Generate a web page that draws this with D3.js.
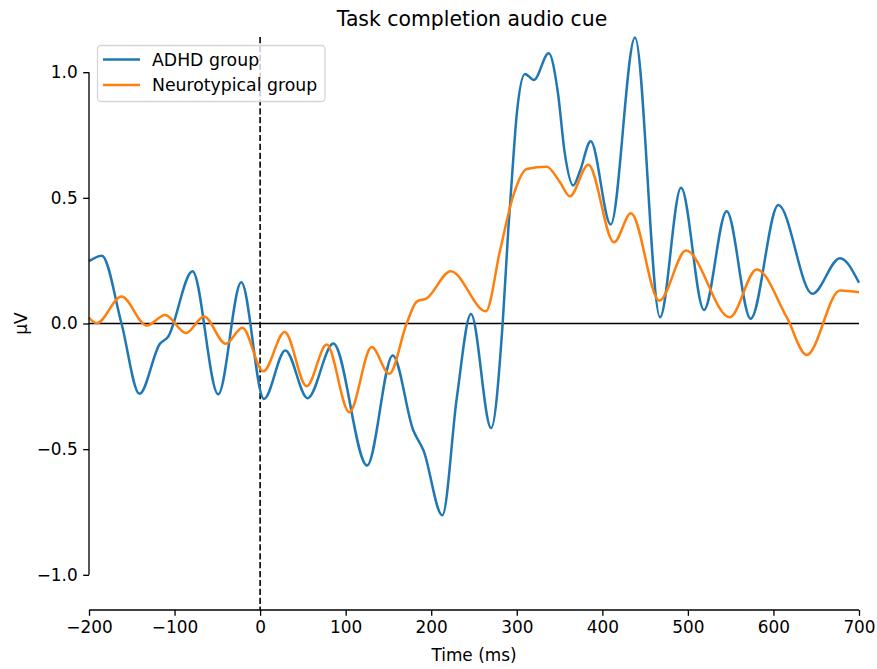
<!DOCTYPE html>
<html><head><meta charset="utf-8">
<script src="https://cdn.jsdelivr.net/npm/d3@7"></script>
<style>body{margin:0;background:#fff;}svg{display:block;font-family:"DejaVu Sans",sans-serif;}</style>
</head><body>
<svg id="c" width="877" height="669"></svg>
<script>
const seriesNames = ["ADHD group", "Neurotypical group"];
const seriesColors = ["#1f77b4", "#ff7f0e"];
const xTicks = [-200, -100, 0, 100, 200, 300, 400, 500, 600, 700];
const yTicks = [-1.0, -0.5, 0.0, 0.5, 1.0];
const adhdTime = [-200,-185,-162,-141,-117,-108,-79,-49,-22,4.5,29.5,55.6,85.6,125,155,179,191,213,230,246.5,270,283.5,290,296,300,309.6,320,337.3,348,356,366,374,386.4,409.8,438.2,467.4,492,518.8,545.3,573.4,605.7,645.4,677.8,700];
const adhdValues = [0.248,0.27,0.0,-0.28,-0.08,-0.055,0.208,-0.282,0.164,-0.30,-0.107,-0.297,-0.08,-0.565,-0.127,-0.425,-0.505,-0.763,-0.293,0.038,-0.416,0.0,0.37,0.66,0.834,0.993,0.969,1.075,0.92,0.68,0.549,0.608,0.725,0.394,1.138,0.025,0.54,0.054,0.447,0.019,0.472,0.118,0.26,0.162];
const ntTime = [-200,-191,-162,-132.5,-111,-86.6,-65.6,-40.2,-20.8,3.7,28.7,54.4,77.8,104.3,130.4,151,171.3,183,194.7,222.8,264,280.4,296,311.6,335,350.5,362,383.6,413.6,433.5,466.6,497.8,549,580.4,615.5,638.8,677.8,700];
const ntValues = [0.023,0.001,0.107,-0.008,0.034,-0.038,0.028,-0.081,-0.017,-0.19,-0.034,-0.25,-0.084,-0.353,-0.094,-0.2,0.0,0.087,0.10,0.208,0.049,0.29,0.51,0.615,0.624,0.562,0.506,0.632,0.323,0.439,0.091,0.29,0.025,0.215,0.025,-0.125,0.131,0.124];

const svg = d3.select("#c");
const L = 89, R = 859, T = 37, B = 610;
const FS = 16.9;
const x = d3.scaleLinear().domain([-200, 700]).range([L, R]);
const y = d3.scaleLinear().domain([-1.14, 1.14]).range([B, T]);

// zero line
svg.append("line").attr("x1", x(-200)).attr("x2", x(700)).attr("y1", y(0)).attr("y2", y(0))
  .attr("stroke", "#000").attr("stroke-width", 1.3);
// dashed vertical at 0
svg.append("line").attr("x1", x(0)).attr("x2", x(0)).attr("y1", T).attr("y2", B)
  .attr("stroke", "#000").attr("stroke-width", 1.6).attr("stroke-dasharray", "6.2,2.7");

const line = d3.line().x(d => x(d[0])).y(d => y(d[1])).curve(d3.curveMonotoneX);
const data = [d3.zip(adhdTime, adhdValues), d3.zip(ntTime, ntValues)];
data.forEach((d, i) => {
  svg.append("path").datum(d).attr("d", line).attr("fill", "none")
    .attr("stroke", seriesColors[i]).attr("stroke-width", 2.5).attr("stroke-linejoin", "round");
});

// axes
const xAxis = d3.axisBottom(x).tickValues(xTicks).tickSize(5.8).tickPadding(5.5)
  .tickFormat(d => d3.format("d")(d).replace("-", "\u2212"));
const gx = svg.append("g").attr("transform", `translate(0,${B})`).call(xAxis);
gx.select(".domain").attr("d", `M${x(-200)},0H${x(700)}`).attr("stroke-width", 1.33);
gx.selectAll(".tick line").attr("stroke-width", 1.33);
gx.selectAll("text").attr("font-size", FS).attr("font-family", "DejaVu Sans").attr("fill", "#000");

const yAxis = d3.axisLeft(y).tickValues(yTicks).tickSize(5.8).tickPadding(5.5)
  .tickFormat(d => d3.format(".1f")(d).replace("-", "\u2212"));
const gy = svg.append("g").attr("transform", `translate(${L},0)`).call(yAxis);
gy.select(".domain").attr("d", `M0,${y(1)}V${y(-1)}`).attr("stroke-width", 1.33);
gy.selectAll(".tick line").attr("stroke-width", 1.33);
gy.selectAll("text").attr("font-size", FS).attr("font-family", "DejaVu Sans").attr("fill", "#000");
gx.attr("font-family", null).attr("font-size", null);
gy.attr("font-family", null).attr("font-size", null);

// labels
svg.append("text").attr("x", (L + R) / 2 - 2).attr("y", 26).attr("text-anchor", "middle")
  .attr("font-size", 20.4).text("Task completion audio cue");
svg.append("text").attr("x", (L + R) / 2).attr("y", 661).attr("text-anchor", "middle")
  .attr("font-size", FS).text("Time (ms)");
svg.append("text").attr("transform", `translate(27,${(T + B) / 2}) rotate(-90)`).attr("text-anchor", "middle")
  .attr("font-size", FS).text("\u00b5V");

// legend
const lg = svg.append("g");
lg.append("rect").attr("x", 97.5).attr("y", 45.5).attr("width", 227.5).attr("height", 56)
  .attr("rx", 3.5).attr("fill", "#fff").attr("fill-opacity", 0.8).attr("stroke", "#d6d6d6").attr("stroke-width", 1.3);
seriesNames.forEach((n, i) => {
  const yy = 59.5 + i * 25.5;
  lg.append("line").attr("x1", 103).attr("x2", 140).attr("y1", yy).attr("y2", yy)
    .attr("stroke", seriesColors[i]).attr("stroke-width", 2.5);
  lg.append("text").attr("x", 152).attr("y", yy + 6).attr("font-size", 17.3).text(n);
});
</script>
</body></html>
